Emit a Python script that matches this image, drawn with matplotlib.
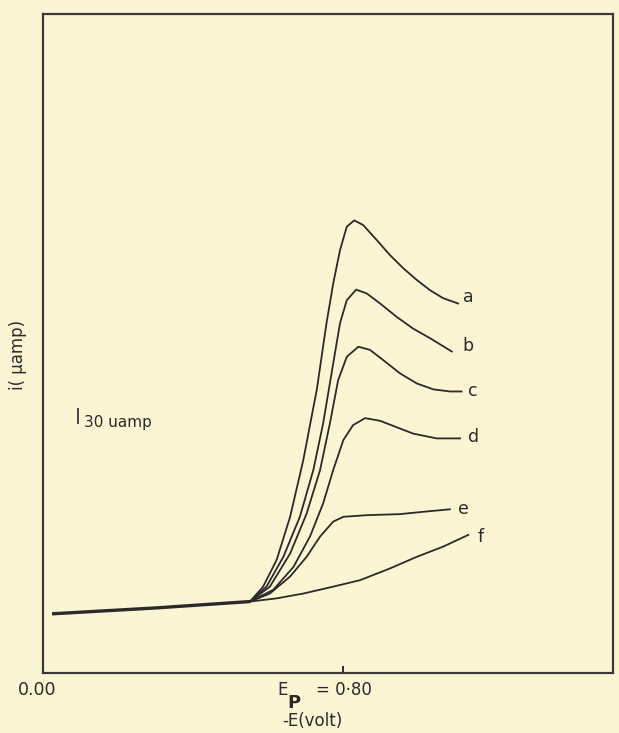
import numpy as np
import matplotlib
matplotlib.use("Agg")
from matplotlib import pyplot as plt

# potentials in volt (-E), currents in micro amp
base_x = [0.024, 0.300, 0.552]
base_y = [111, 122, 134]

a_x = [0.587, 0.623, 0.659, 0.694, 0.730, 0.756, 0.774, 0.792, 0.810, 0.830, 0.854,
       0.890, 0.925, 0.961, 0.997, 1.032, 1.067, 1.107]
a_y = [162, 212, 293, 399, 531, 656, 731, 793, 837, 849, 840,
       812, 784, 759, 737, 718, 703, 693]

b_x = [0.596, 0.641, 0.685, 0.721, 0.747, 0.774, 0.792, 0.810, 0.835, 0.863, 0.899,
       0.943, 0.987, 1.032, 1.090]
b_y = [162, 218, 293, 381, 468, 581, 656, 699, 719, 712, 693,
       668, 646, 628, 603]

c_x = [0.605, 0.659, 0.703, 0.739, 0.765, 0.787, 0.810, 0.841, 0.872, 0.907, 0.952,
       0.997, 1.041, 1.085, 1.116]
c_y = [162, 224, 299, 381, 468, 549, 593, 612, 606, 587, 562,
       543, 532, 528, 528]

d_x = [0.614, 0.668, 0.712, 0.747, 0.774, 0.801, 0.827, 0.859, 0.899, 0.943, 0.987,
       1.050, 1.112]
d_y = [156, 199, 256, 318, 381, 437, 465, 478, 473, 461, 449,
       440, 440]

e_x = [0.605, 0.659, 0.703, 0.739, 0.774, 0.801, 0.863, 0.952, 1.023, 1.085]
e_y = [149, 181, 218, 256, 284, 293, 296, 298, 303, 307]

f_x = [0.623, 0.694, 0.774, 0.845, 0.925, 0.997, 1.067, 1.134]
f_y = [140, 149, 162, 174, 196, 218, 237, 259]

labels = ["a", "b", "c", "d", "e", "f"]
label_off = [(5, 7), (11, 5), (6, 0), (8, 1), (8, 0), (9, -2)]

paper = "#fcf5d4"
ink = "#2a2a2a"

fig = plt.figure(figsize=(6.19, 7.33), dpi=100, facecolor=paper)
ax = fig.add_axes([43 / 619, 60 / 733, 570 / 619, 659 / 733])
ax.set_facecolor(paper)
ax.set_xlim(0, 1.52)
ax.set_ylim(0, 1236)
ax.set_xticks([])
ax.set_yticks([])
for s in ax.spines.values():
    s.set_color("#3a3a3a")
    s.set_linewidth(1.6)

ax.plot(base_x, base_y, color=ink, lw=2.4, solid_capstyle="butt")

curves = [(a_x, a_y), (b_x, b_y), (c_x, c_y), (d_x, d_y), (e_x, e_y), (f_x, f_y)]
for (cx, cy), lab, off in zip(curves, labels, label_off):
    xs = [base_x[-1]] + cx
    ys = [base_y[-1]] + cy
    ax.plot(xs, ys, color=ink, lw=1.3, solid_joinstyle="round")
    ax.annotate(lab, (cx[-1], cy[-1]), xytext=off, textcoords="offset pixels",
                fontsize=12.5, color=ink, va="center", ha="left")

# scale bar
ax.vlines(0.093, 467, 497, color=ink, lw=1.2)
ax.text(0.11, 470, "30 uamp", fontsize=11, color=ink, va="center", ha="left")

# Ep tick
ax.vlines(0.80, 0, 14, color=ink, lw=1.4)

fig.text(18 / 619, 1 - 690 / 733, "0.00", fontsize=12.5, color=ink, va="center", ha="left")
fig.text(277 / 619, 1 - 690 / 733, "E", fontsize=12, color=ink, va="center", ha="left")
fig.text(287 / 619, 1 - 703 / 733, "P", fontsize=13, color=ink, va="center", ha="left",
         fontweight="bold")
fig.text(316 / 619, 1 - 690 / 733, "= 0·80", fontsize=12, color=ink, va="center", ha="left")
fig.text(312 / 619, 1 - 721 / 733, "-E(volt)", fontsize=12, color=ink, va="center", ha="center")
fig.text(18 / 619, 1 - 355 / 733, "i( µamp)", fontsize=12, color=ink, va="center", ha="center",
         rotation=90)

fig.savefig("out.png", dpi=100, facecolor=paper)
